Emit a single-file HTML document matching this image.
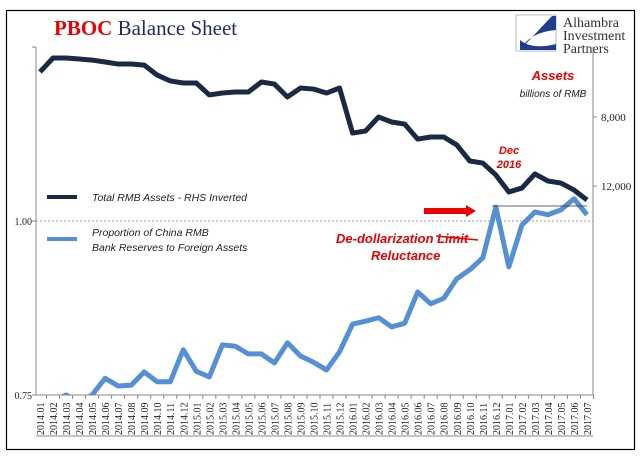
<!DOCTYPE html>
<html><head><meta charset="utf-8"><style>
body{margin:0;background:#fff}
svg text{font-family:"Liberation Sans",sans-serif}
.it{font-style:italic}
</style></head><body>
<svg width="641" height="461" viewBox="0 0 641 461" xmlns="http://www.w3.org/2000/svg">
<rect x="6.5" y="10.5" width="628" height="439" fill="#fff" stroke="#000" stroke-width="1.2"/>
<text x="54" y="35" font-family="Liberation Serif" font-size="21" style="font-family:'Liberation Serif',serif"><tspan fill="#e00" font-weight="bold">PBOC</tspan><tspan fill="#1f2a6b"> Balance Sheet</tspan></text>
<g>
<rect x="516" y="15" width="40" height="36" fill="#fff" stroke="#bbb"/>
<path d="M520 50 L552 16 L556 16 L556 30 Q530 32 520 50Z" fill="#1f3d8f"/>
<path d="M520 40 Q532 50 556 44 L556 50 L520 50Z" fill="#1f3d8f"/>
<text x="563" y="27" font-size="14" fill="#333" style="font-family:'Liberation Serif',serif">Alhambra</text>
<text x="563" y="40" font-size="14" fill="#333" style="font-family:'Liberation Serif',serif">Investment</text>
<text x="563" y="53" font-size="14" fill="#333" style="font-family:'Liberation Serif',serif">Partners</text>
</g>
<text x="553" y="80" font-size="13" fill="#e00" font-weight="bold" class="it" text-anchor="middle">Assets</text>
<text x="553" y="97" font-size="10" fill="#222" class="it" text-anchor="middle">billions of RMB</text>
<g id="axes"></g>
<g id="series"></g>
<g>
<line x1="492" y1="206" x2="587" y2="206" stroke="#333" stroke-width="0.8"/>
<path d="M424 208 L466 208 L466 205 L476 211 L466 217 L466 214 L424 214Z" fill="#e00"/>
<text x="509" y="154" font-size="11" fill="#e00" font-weight="bold" class="it" text-anchor="middle">Dec</text>
<text x="509" y="168" font-size="11" fill="#e00" font-weight="bold" class="it" text-anchor="middle">2016</text>
<text x="336" y="243" font-size="13" fill="#e00" font-weight="bold" class="it">De-dollarization Limit</text>
<line x1="436" y1="236" x2="478" y2="240" stroke="#e00" stroke-width="1.5"/>
<text x="371" y="260" font-size="13" fill="#e00" font-weight="bold" class="it">Reluctance</text>
</g>
<g>
<line x1="47" y1="197" x2="77" y2="197" stroke="#1b2a44" stroke-width="4"/>
<text x="92" y="201" font-size="10.5" fill="#222" class="it">Total RMB Assets - RHS Inverted</text>
<line x1="47" y1="239" x2="77" y2="239" stroke="#5590d6" stroke-width="4"/>
<text x="92" y="236" font-size="10.5" fill="#222" class="it">Proportion  of China RMB</text>
<text x="92" y="251" font-size="10.5" fill="#222" class="it">Bank Reserves to Foreign Assets</text>
</g>
</svg>
<script>
const categories=[];for(let y=2014;y<=2017;y++)for(let m=1;m<=12;m++){if(y===2017&&m>7)break;categories.push(y+'.'+String(m).padStart(2,'0'));}
const assets=[5390,4580,4580,4640,4700,4810,4930,4930,4990,5570,5910,6030,6030,6720,6610,6550,6550,5970,6090,6840,6320,6380,6610,6320,8930,8810,8000,8290,8410,9280,9160,9160,9620,10550,10670,11360,12350,12120,11300,11710,11830,12230,12810];
const proportion=[0.73,0.74,0.75,0.74,0.75,0.774,0.763,0.764,0.783,0.769,0.769,0.815,0.784,0.776,0.822,0.820,0.809,0.809,0.796,0.825,0.806,0.797,0.786,0.812,0.852,0.856,0.861,0.848,0.853,0.898,0.881,0.889,0.917,0.930,0.947,1.020,0.934,0.994,1.013,1.009,1.016,1.032,1.009];
const leftTicks=[0.75,1.00,1.25];
const rightTicks=[8000,12000];
const NS='http://www.w3.org/2000/svg';
const L=36,R=593,T=47,B=395;
const x=i=>40+i*(587-40)/(categories.length-1);
const yL=v=>B-(v-0.75)/0.5*(B-T);
const yR=v=>117+(v-8000)/4000*69;
function el(t,a,p){const e=document.createElementNS(NS,t);for(const k in a)e.setAttribute(k,a[k]);p.appendChild(e);return e;}
const ax=document.getElementById('axes'),se=document.getElementById('series');
let e=el('line',{x1:L,y1:T,x2:L,y2:B,stroke:'#888'},ax);


e=el('line',{x1:R,y1:T,x2:R,y2:B,stroke:'#888'},ax);


e=el('line',{x1:L,y1:B,x2:R,y2:B,stroke:'#888'},ax);


e=el('line',{x1:L,y1:436,x2:R,y2:436,stroke:'#888'},ax);


leftTicks.forEach(v=>{
 const yy=yL(v);
 const t=el('line',{x1:L-4,y1:yy,x2:L,y2:yy,stroke:'#888'},ax);
 
 
 if(v===1){const g=el('line',{x1:L,y1:yy,x2:R,y2:yy,stroke:'#999','stroke-dasharray':'2,2'},ax);
 
 }
 if(v<1.2){const tx=el('text',{x:L-4,y:yy+4,'font-size':10,'text-anchor':'end',fill:'#222',style:"font-family:'Liberation Serif',serif"},ax);tx.textContent=v.toFixed(2);
 
 }
});
rightTicks.forEach(v=>{
 const yy=yR(v);
 const t=el('line',{x1:R,y1:yy,x2:R+4,y2:yy,stroke:'#888'},ax);
 
 
 const tx=el('text',{x:R+8,y:yy+4,'font-size':11,fill:'#222',style:"font-family:'Liberation Serif',serif"},ax);tx.textContent=v.toLocaleString('en-US');
 
 
});
categories.forEach((c,i)=>{
 const xx=x(i);
 const t=el('line',{x1:xx+6.5,y1:B,x2:xx+6.5,y2:B+4,stroke:'#888'},ax);
 
 
 const tx=el('text',{x:0,y:0,'font-size':10,fill:'#222',style:"font-family:'Liberation Serif',serif"},ax);
 tx.setAttribute('text-anchor','start');
 tx.setAttribute('transform',`translate(${xx+4},${435}) rotate(-90)`);
 tx.textContent=c;
 
 
});
const clip=el('clipPath',{id:'pc'},se);el('rect',{x:L,y:T,width:R-L,height:B-T},clip);
const p1=el('polyline',{points:assets.map((v,i)=>x(i)+','+yR(v)).join(' '),fill:'none',stroke:'#1b2a44','stroke-width':5,'stroke-linejoin':'round','clip-path':'url(#pc)'},se);


const p2=el('polyline',{points:proportion.map((v,i)=>x(i)+','+yL(v)).join(' '),fill:'none',stroke:'#5590d6','stroke-width':5,'stroke-linejoin':'round','clip-path':'url(#pc)'},se);


</script>
</body></html>
